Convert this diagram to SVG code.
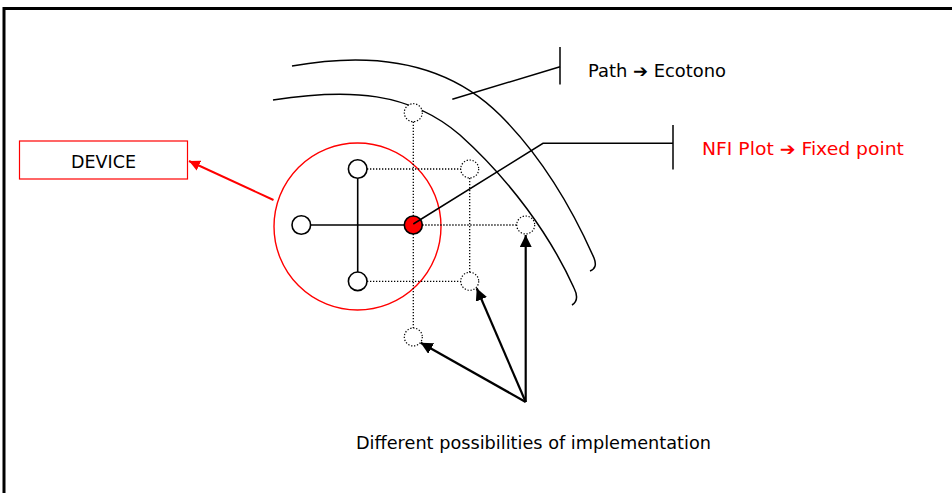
<svg xmlns="http://www.w3.org/2000/svg" width="952" height="493" viewBox="0 0 952 493">
  <style>
    .txt { font-family: "DejaVu Sans", "Liberation Sans", sans-serif; font-size: 17.5px; fill: #000; }
    .red { fill: #ff0000; }
    .curve { fill: none; stroke: #000; stroke-width: 1.5; }
    .solid { stroke: #000; stroke-width: 1.6; fill: none; }
    .dot { stroke: #000; stroke-width: 1.3; stroke-dasharray: 1.3 1.7; fill: none; }
    .open { fill: #fff; stroke: #000; stroke-width: 1.6; }
    .dotc { fill: #fff; stroke: #000; stroke-width: 1.2; stroke-dasharray: 1.3 1.7; }
    .lead { stroke: #000; stroke-width: 1.5; fill: none; }
    .arr { stroke: #000; stroke-width: 2.2; fill: none; marker-end: url(#ah); }
    .arrR { stroke: #ff0000; stroke-width: 2; fill: none; marker-end: url(#ahR); }
  </style>
  <defs>
    <marker id="ah" viewBox="0 0 12 12" refX="12" refY="6" markerWidth="12" markerHeight="12" markerUnits="userSpaceOnUse" orient="auto">
      <path d="M0,0 L12,6 L0,12 z" fill="#000"/>
    </marker>
    <marker id="ahR" viewBox="0 0 12 12" refX="12" refY="6" markerWidth="11" markerHeight="11" markerUnits="userSpaceOnUse" orient="auto">
      <path d="M0,0 L12,6 L0,12 z" fill="#ff0000"/>
    </marker>
  </defs>
  <rect x="0" y="0" width="952" height="493" fill="#fff"/>
  <rect id="frame" x="4" y="8.5" width="980" height="520" fill="none" stroke="#000" stroke-width="3"/>

  <g id="path-ecotono">
    <path class="curve" d="M292,66 C380,50 450,65 500,115 C545,160 575,215 594,258 Q598,268 590,271"/>
    <path class="curve" d="M273,100 C350,88 410,92 460,135 C510,180 550,235 574,288 Q580,300 572,305"/>
  </g>

  <g id="device-range">
    <circle cx="357.5" cy="226.5" r="83.5" fill="none" stroke="#ff0000" stroke-width="1.4"/>
  </g>

  <g id="device">
    <rect x="19.5" y="141" width="168" height="38" fill="#fff" stroke="#ff0000" stroke-width="1.2"/>
    <text class="txt" x="103.5" y="168" text-anchor="middle" font-size="16.5">DEVICE</text>
  </g>

  <g id="device-points">
    <circle class="open" cx="301.3" cy="225" r="9.3"/>
    <circle class="open" cx="357.7" cy="169" r="9.3"/>
    <circle class="open" cx="357.7" cy="281.3" r="9.3"/>
  </g>

  <g id="nfi-plot">
    <circle cx="413.3" cy="225" r="9" fill="#ff0000" stroke="#000" stroke-width="1.6"/>
  </g>

  <g id="alt-points">
    <circle class="dotc" cx="413.3" cy="112.7" r="9"/>
    <circle class="dotc" cx="469.7" cy="169" r="9"/>
    <circle class="dotc" cx="525.7" cy="225" r="9"/>
    <circle class="dotc" cx="469.7" cy="281.3" r="9"/>
    <circle class="dotc" cx="413.3" cy="337" r="9"/>
  </g>

  <g id="label-path">
    <text class="txt" x="588" y="76.7" textLength="138" lengthAdjust="spacingAndGlyphs">Path ➔ Ecotono</text>
  </g>
  <g id="label-nfi">
    <text class="txt red" x="702" y="155" textLength="202" lengthAdjust="spacingAndGlyphs">NFI Plot ➔ Fixed point</text>
  </g>
  <g id="label-impl">
    <text class="txt" x="356" y="449.3" textLength="355" lengthAdjust="spacingAndGlyphs">Different possibilities of implementation</text>
  </g>

  <g id="connectors">
    <line class="solid" x1="310.6" y1="225" x2="404.3" y2="225"/>
    <line class="solid" x1="357.7" y1="178.3" x2="357.7" y2="272"/>
    <line class="dot" x1="413.3" y1="121.7" x2="413.3" y2="216"/>
    <line class="dot" x1="413.3" y1="234" x2="413.3" y2="328"/>
    <line class="dot" x1="469.7" y1="178" x2="469.7" y2="272.3"/>
    <line class="dot" x1="367" y1="169" x2="460.7" y2="169"/>
    <line class="dot" x1="422.3" y1="225" x2="516.7" y2="225"/>
    <line class="dot" x1="367" y1="281.3" x2="460.7" y2="281.3"/>
    <line class="lead" x1="452.3" y1="99.3" x2="560" y2="66.7"/>
    <line class="lead" x1="560" y1="47" x2="560" y2="84.5"/>
    <polyline class="lead" points="413.3,224 543,143.3 673,143.3"/>
    <line class="lead" x1="673" y1="125" x2="673" y2="169.5"/>
    <line class="arrR" x1="273.5" y1="200" x2="189" y2="161"/>
    <line class="arr" x1="525.7" y1="402" x2="525.7" y2="235"/>
    <line class="arr" x1="525.7" y1="402" x2="476.7" y2="288.3"/>
    <line class="arr" x1="525.7" y1="402" x2="420.7" y2="342.7"/>
  </g>
</svg>
